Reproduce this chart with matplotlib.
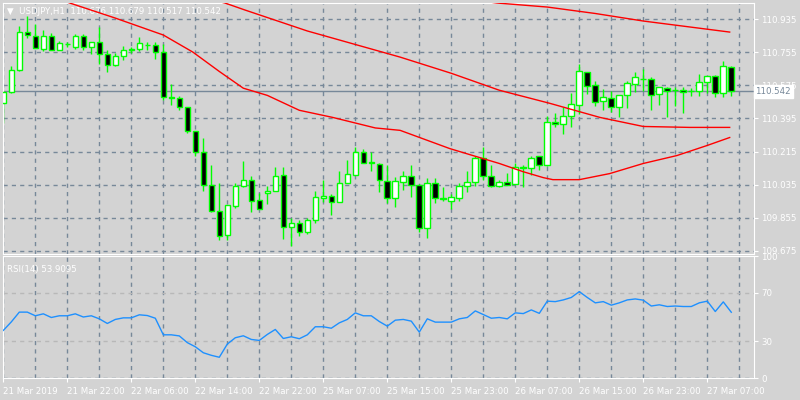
import matplotlib
matplotlib.use("Agg")
import matplotlib.pyplot as plt
import numpy as np

opens = [110.477,110.537,110.657,110.864,110.842,110.771,110.842,110.766,110.799,110.782,
         110.842,110.782,110.810,110.744,110.684,110.733,110.766,110.771,110.793,110.793,
         110.755,110.510,110.504,110.455,110.324,110.215,110.035,109.893,109.762,109.920,
         110.030,110.062,109.953,109.991,110.002,110.089,109.806,109.828,109.779,109.844,
         109.964,109.975,109.942,110.046,110.089,110.210,110.155,110.149,110.057,109.964,
         110.051,110.084,110.035,109.800,110.046,109.959,109.948,109.964,110.030,110.051,
         110.177,110.084,110.030,110.051,110.040,110.128,110.128,110.188,110.139,110.373,
         110.362,110.406,110.466,110.646,110.575,110.488,110.504,110.455,110.520,110.580,
         110.608,110.608,110.526,110.559,110.548,110.548,110.542,110.542,110.591,110.624,
         110.531,110.676]
closes = [110.537,110.657,110.864,110.848,110.777,110.842,110.766,110.804,110.800,110.842,
          110.782,110.810,110.744,110.684,110.733,110.766,110.771,110.804,110.796,110.755,
          110.510,110.508,110.455,110.324,110.215,110.035,109.893,109.757,109.926,110.030,
          110.062,109.948,109.904,110.002,110.084,109.806,109.828,109.779,109.844,109.970,
          109.975,109.942,110.046,110.095,110.210,110.155,110.155,110.062,109.964,110.057,
          110.084,110.035,109.800,110.046,109.964,109.959,109.970,110.030,110.051,110.177,
          110.084,110.030,110.051,110.035,110.133,110.133,110.182,110.139,110.373,110.362,
          110.406,110.471,110.651,110.569,110.482,110.510,110.455,110.520,110.586,110.619,
          110.608,110.520,110.564,110.542,110.548,110.537,110.542,110.591,110.624,110.531,
          110.679,110.542]
highs = [110.542,110.679,110.897,110.951,110.908,110.875,110.859,110.815,110.810,110.853,
         110.853,110.811,110.891,110.766,110.750,110.788,110.782,110.837,110.810,110.810,
         110.799,110.580,110.515,110.455,110.324,110.286,110.139,110.046,109.926,110.046,
         110.166,110.084,109.991,110.030,110.133,110.133,109.855,109.844,109.855,110.002,
         110.062,109.986,110.111,110.171,110.242,110.226,110.215,110.155,110.144,110.079,
         110.111,110.139,110.037,110.073,110.073,110.024,109.986,110.046,110.111,110.193,
         110.242,110.139,110.062,110.100,110.155,110.144,110.193,110.190,110.406,110.422,
         110.455,110.531,110.690,110.648,110.597,110.553,110.542,110.522,110.597,110.646,
         110.662,110.619,110.566,110.564,110.564,110.564,110.559,110.635,110.626,110.629,
         110.706,110.679]
lows = [110.368,110.531,110.655,110.831,110.775,110.760,110.764,110.764,110.782,110.771,
        110.766,110.744,110.690,110.646,110.679,110.711,110.750,110.760,110.766,110.717,
        110.493,110.466,110.439,110.313,110.193,110.002,109.888,109.735,109.735,109.909,
        110.024,109.888,109.902,109.931,110.000,109.740,109.702,109.757,109.768,109.826,
        109.942,109.871,109.940,110.044,110.087,110.153,110.111,109.997,109.937,109.915,
        110.008,109.969,109.779,109.746,109.937,109.948,109.904,109.948,109.997,110.028,
        110.062,110.024,110.024,110.033,110.038,110.024,110.089,110.117,110.137,110.346,
        110.308,110.346,110.417,110.526,110.460,110.439,110.428,110.400,110.450,110.537,
        110.542,110.439,110.466,110.400,110.460,110.422,110.515,110.515,110.531,110.510,
        110.510,110.517]

rsi = [39,46,54,54,51,52.6,49.6,51,51,52.6,50,51,48.5,44.7,48,49.3,49.3,51.8,51.2,49,
       35.4,35.4,34.5,29,25.6,20.7,18.6,17,27.8,33,34.6,31.6,30.8,35.7,39.8,32.4,33.8,32.2,35.4,42,
       42,40.8,45.2,48,53.4,51,51,46.3,42.5,47.4,48,46.6,37.6,48.5,45.8,45.8,45.8,48.5,49.6,55,
       52,49,49.6,48.5,53.4,52.8,55.8,53,63,62.6,64,66,70.8,66,61.6,62.6,59.7,61.6,64,64.8,
       63.8,59,60,58.6,59,58.6,58.6,61.6,63,54.5,62.4,53.9]

ma_a_idx = [0,8.3,14,20,23.7,27,30,33,37,41.2,46.5,49.6,55.8,58.7,62,65,67.5,68.7,72,75.8,80,84.2,88,90.8]
ma_a_val = [111.15,111.022,110.94,110.848,110.755,110.65,110.559,110.520,110.439,110.400,110.343,110.330,
            110.231,110.193,110.150,110.105,110.073,110.062,110.062,110.095,110.150,110.193,110.248,110.291]
ma_b_idx = [20,27.7,30.2,38,46.5,49.6,56,62,68.3,74.6,80,85.8,90.8]
ma_b_val = [111.1,111.022,110.984,110.87,110.766,110.728,110.64,110.548,110.477,110.400,110.351,110.346,110.346]
ma_c_idx = [55,61.7,68,74,80,90.8]
ma_c_val = [111.06,111.022,111.0,110.965,110.924,110.864]

price_ticks = [109.675,109.855,110.035,110.215,110.395,110.575,110.755,110.935]
rsi_ticks = [0,30,70,100]
time_labels = ["21 Mar 2019","21 Mar 22:00","22 Mar 06:00","22 Mar 14:00","22 Mar 22:00",
               "25 Mar 07:00","25 Mar 15:00","25 Mar 23:00","26 Mar 07:00","26 Mar 15:00",
               "26 Mar 23:00","27 Mar 07:00"]
last_price = 110.542

BG = "#d3d3d3"
GRID = "#778899"
LIME = "#00ff00"
FS = 6.2

fig = plt.figure(figsize=(8, 4), dpi=100, facecolor=BG)
ax = fig.add_axes([3/800, 146/400, 751/800, 251/400], facecolor=BG)
ax2 = fig.add_axes([3/800, 22/400, 751/800, 122/400], facecolor=BG)

n = len(opens)
x = np.arange(n)
xl = (-0.04, 93.84)

for a in (ax, ax2):
    a.set_xlim(*xl)
    for s in a.spines.values():
        s.set_color("white")
    for v in range(0, 94, 4):
        a.axvline(v, color=GRID, lw=1, ls=(0, (3, 3)), zorder=0)
    a.yaxis.tick_right()
    a.tick_params(axis="y", colors="white", labelsize=FS, length=3, pad=2, labelcolor="white")
    a.tick_params(axis="x", colors="white", length=3)

ax.set_ylim(109.658, 111.022)
for p in price_ticks:
    ax.axhline(p, color=GRID, lw=1, ls=(0, (3, 3)), zorder=0)
ax.set_yticks(price_ticks)
ax.set_yticklabels([f"{p:.3f}" for p in price_ticks])
ax.set_xticks([])
ax.axhline(last_price, color=GRID, lw=1, zorder=1)

o = np.array(opens); c = np.array(closes)
ax.vlines(x, lows, highs, color=LIME, lw=1, zorder=2)
bot = np.minimum(o, c)
hgt = np.maximum(np.abs(c - o), 0.002)
cols = ["white" if cc >= oo else "black" for oo, cc in zip(o, c)]
ax.bar(x, hgt, bottom=bot, width=0.7, color=cols, edgecolor=LIME, linewidth=1, zorder=3)

for xi, yv in ((ma_a_idx, ma_a_val), (ma_b_idx, ma_b_val), (ma_c_idx, ma_c_val)):
    ax.plot(xi, yv, color="red", lw=1, zorder=4)

ax.text(0.005, 0.985, "\u25bc  USDJPY,H1  110.676 110.679 110.517 110.542", transform=ax.transAxes,
        color="white", fontsize=FS, va="top", ha="left")
ax.text(1.002, last_price, f"{last_price:.3f}", transform=ax.get_yaxis_transform(),
        color=GRID, fontsize=FS, va="center", ha="left",
        bbox=dict(boxstyle="square,pad=0.2", fc="white", ec="white"), zorder=10, clip_on=False)

ax2.set_ylim(0, 100)
for lv in (30, 70):
    ax2.axhline(lv, color="#b8b8b8", lw=1, ls=(0, (3, 3)), zorder=0)
ax2.axhline(0, color=GRID, lw=1, ls=(0, (3, 3)), zorder=0)
ax2.plot(x, rsi, color="#1e90ff", lw=1, zorder=3)
ax2.set_yticks(rsi_ticks)
ax2.set_yticklabels([str(t) for t in rsi_ticks])
tick_pos = list(range(0, 8 * len(time_labels), 8))
ax2.set_xticks(tick_pos)
ax2.set_xticklabels(time_labels, ha="left", fontsize=FS, color="white")
ax2.text(0.005, 0.93, "RSI(14) 53.9095", transform=ax2.transAxes, color="white",
         fontsize=FS, va="top", ha="left")

fig.savefig("out.png", dpi=100, facecolor=BG)
